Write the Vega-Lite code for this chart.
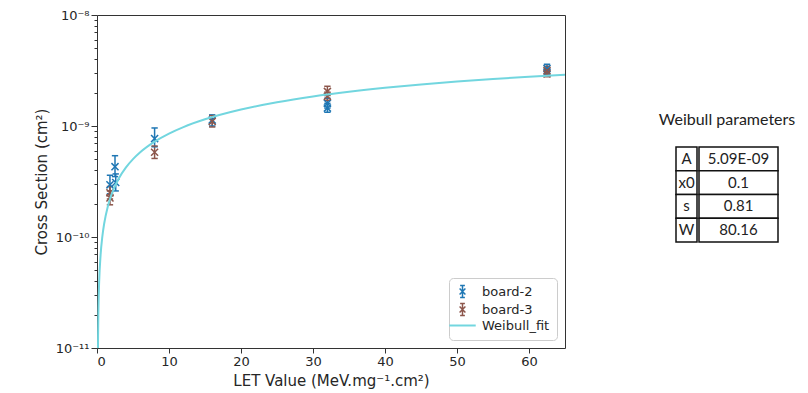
{
  "$schema": "https://vega.github.io/schema/vega-lite/v6.json",
  "padding": {"left": 33, "top": 8, "right": 5, "bottom": 3},
  "config": {"font": "DejaVu Sans", "concat": {"spacing": 92}},
  "resolve": {"scale": {"color": "independent"}, "legend": {"color": "independent"}},
  "datasets": {
    "pts": [
      {"series": "board-2", "let": 1.8, "cs": 2.95e-10, "lo": 2.45e-10, "hi": 3.6e-10},
      {"series": "board-2", "let": 2.5, "cs": 4.3e-10, "lo": 3.5e-10, "hi": 5.4e-10},
      {"series": "board-2", "let": 2.6, "cs": 3.1e-10, "lo": 2.6e-10, "hi": 3.7e-10},
      {"series": "board-2", "let": 8, "cs": 7.7e-10, "lo": 6.5e-10, "hi": 9.6e-10},
      {"series": "board-2", "let": 16, "cs": 1.13e-9, "lo": 1.0e-9, "hi": 1.26e-9},
      {"series": "board-2", "let": 32, "cs": 1.6e-9, "lo": 1.45e-9, "hi": 1.78e-9},
      {"series": "board-2", "let": 32, "cs": 1.45e-9, "lo": 1.33e-9, "hi": 1.6e-9},
      {"series": "board-2", "let": 62.5, "cs": 3.3e-9, "lo": 3.05e-9, "hi": 3.6e-9},
      {"series": "board-2", "let": 62.5, "cs": 3.05e-9, "lo": 2.85e-9, "hi": 3.3e-9},
      {"series": "board-3", "let": 1.8, "cs": 2.25e-10, "lo": 1.95e-10, "hi": 2.6e-10},
      {"series": "board-3", "let": 1.8, "cs": 2.5e-10, "lo": 2.2e-10, "hi": 2.85e-10},
      {"series": "board-3", "let": 8, "cs": 5.8e-10, "lo": 5.1e-10, "hi": 6.6e-10},
      {"series": "board-3", "let": 16, "cs": 1.1e-9, "lo": 0.98e-9, "hi": 1.24e-9},
      {"series": "board-3", "let": 32, "cs": 2.05e-9, "lo": 1.88e-9, "hi": 2.28e-9},
      {"series": "board-3", "let": 32, "cs": 1.85e-9, "lo": 1.7e-9, "hi": 2.02e-9},
      {"series": "board-3", "let": 62.5, "cs": 3.15e-9, "lo": 2.92e-9, "hi": 3.45e-9},
      {"series": "board-3", "let": 62.5, "cs": 2.95e-9, "lo": 2.78e-9, "hi": 3.2e-9}
    ],
    "fit": [
      {"series": "Weibull_fit", "let": 0.12, "cs": 6.14e-12},
      {"series": "Weibull_fit", "let": 0.13, "cs": 8.52e-12},
      {"series": "Weibull_fit", "let": 0.15, "cs": 1.288e-11},
      {"series": "Weibull_fit", "let": 0.2, "cs": 2.255e-11},
      {"series": "Weibull_fit", "let": 0.3, "cs": 3.95e-11},
      {"series": "Weibull_fit", "let": 0.5, "cs": 6.91e-11},
      {"series": "Weibull_fit", "let": 0.75, "cs": 1.02e-10},
      {"series": "Weibull_fit", "let": 1, "cs": 1.324e-10},
      {"series": "Weibull_fit", "let": 1.5, "cs": 1.883e-10},
      {"series": "Weibull_fit", "let": 2, "cs": 2.398e-10},
      {"series": "Weibull_fit", "let": 3, "cs": 3.345e-10},
      {"series": "Weibull_fit", "let": 4, "cs": 4.214e-10},
      {"series": "Weibull_fit", "let": 5, "cs": 5.026e-10},
      {"series": "Weibull_fit", "let": 6, "cs": 5.794e-10},
      {"series": "Weibull_fit", "let": 8, "cs": 7.223e-10},
      {"series": "Weibull_fit", "let": 10, "cs": 8.544e-10},
      {"series": "Weibull_fit", "let": 12, "cs": 9.776e-10},
      {"series": "Weibull_fit", "let": 15, "cs": 1.149e-9},
      {"series": "Weibull_fit", "let": 20, "cs": 1.407e-9},
      {"series": "Weibull_fit", "let": 25, "cs": 1.636e-9},
      {"series": "Weibull_fit", "let": 30, "cs": 1.844e-9},
      {"series": "Weibull_fit", "let": 35, "cs": 2.033e-9},
      {"series": "Weibull_fit", "let": 40, "cs": 2.207e-9},
      {"series": "Weibull_fit", "let": 45, "cs": 2.366e-9},
      {"series": "Weibull_fit", "let": 50, "cs": 2.514e-9},
      {"series": "Weibull_fit", "let": 55, "cs": 2.651e-9},
      {"series": "Weibull_fit", "let": 60, "cs": 2.779e-9},
      {"series": "Weibull_fit", "let": 65, "cs": 2.899e-9}
    ],
    "params": [
      {"p": "A", "v": "5.09E-09"},
      {"p": "x0", "v": "0.1"},
      {"p": "s", "v": "0.81"},
      {"p": "W", "v": "80.16"}
    ]
  },
  "hconcat": [
    {
      "width": 468,
      "height": 333,
      "view": {"stroke": "#333333", "strokeWidth": 1},
      "encoding": {
        "x": {
          "field": "let", "type": "quantitative",
          "scale": {"domain": [0, 65], "nice": false, "zero": false},
          "axis": {
            "title": "LET Value (MeV.mg⁻¹.cm²)",
            "values": [0, 10, 20, 30, 40, 50, 60],
            "grid": false, "domain": false,
            "tickSize": 5, "tickColor": "#333333", "labelPadding": 2,
            "labelFont": "DejaVu Sans", "labelFontSize": 13, "labelColor": "#262626",
            "titleFont": "DejaVu Sans", "titleFontSize": 15, "titleFontWeight": "normal", "titleColor": "#262626", "titlePadding": 5
          }
        },
        "color": {
          "field": "series", "type": "nominal",
          "scale": {"domain": ["board-2", "board-3", "Weibull_fit"], "range": ["#1f77b4", "#8c564b", "#72d6df"]},
          "legend": {
            "title": null, "orient": "bottom-right", "offset": 8,
            "fillColor": "white", "strokeColor": "#cccccc", "cornerRadius": 4, "padding": 7,
            "labelFont": "DejaVu Sans", "labelFontSize": 13, "labelColor": "#262626", "labelOffset": 13,
            "symbolSize": 700, "rowPadding": -1, "symbolStrokeWidth": 1.5,
            "encode": {
              "symbols": {
                "update": {
                  "shape": {"signal": "datum.value === 'Weibull_fit' ? 'stroke' : 'M-0.22,-0.22L0.22,0.22M-0.22,0.22L0.22,-0.22M0,-0.45L0,0.45M-0.18,-0.45L0.18,-0.45M-0.18,0.45L0.18,0.45'"},
                  "strokeWidth": {"signal": "datum.value === 'Weibull_fit' ? 2 : 1.5"},
                  "fill": {"value": "transparent"},
                  "stroke": {"signal": "datum.value === 'board-2' ? '#1f77b4' : datum.value === 'board-3' ? '#8c564b' : '#72d6df'"}
                }
              }
            }
          }
        }
      },
      "layer": [
        {
          "data": {"name": "pts"},
          "mark": {"type": "rule", "strokeWidth": 1.5},
          "encoding": {
            "y": {
              "field": "lo", "type": "quantitative",
              "scale": {"type": "log", "domain": [1e-11, 1e-8], "nice": false},
              "axis": {
                "title": "Cross Section (cm²)",
                "values": [1e-11, 2e-11, 3e-11, 4e-11, 5e-11, 6e-11, 7e-11, 8e-11, 9e-11, 1e-10, 2e-10, 3e-10, 4e-10, 5e-10, 6e-10, 7e-10, 8e-10, 9e-10, 1e-9, 2e-9, 3e-9, 4e-9, 5e-9, 6e-9, 7e-9, 8e-9, 9e-9, 1e-8],
                "labelExpr": "abs(datum.value/pow(10,round(log(datum.value)/LN10))-1)<1e-6 ? (round(log(datum.value)/LN10)==-8 ? '10⁻⁸' : round(log(datum.value)/LN10)==-9 ? '10⁻⁹' : round(log(datum.value)/LN10)==-10 ? '10⁻¹⁰' : '10⁻¹¹') : ''",
                "tickSize": {"condition": {"test": "abs(datum.value/pow(10,round(log(datum.value)/LN10))-1)<1e-6", "value": 6}, "value": 3},
                "labelOverlap": false, "grid": false, "domain": false,
                "tickColor": "#333333", "labelPadding": 2,
                "labelFont": "DejaVu Sans", "labelFontSize": 13, "labelColor": "#262626",
                "titleFont": "DejaVu Sans", "titleFontSize": 15, "titleFontWeight": "normal", "titleColor": "#262626", "titlePadding": 6
              }
            },
            "y2": {"field": "hi"}
          }
        },
        {
          "data": {"name": "pts"},
          "mark": {"type": "point", "shape": "stroke", "size": 40, "filled": false, "strokeWidth": 1.5, "opacity": 1},
          "encoding": {"y": {"field": "lo", "type": "quantitative"}}
        },
        {
          "data": {"name": "pts"},
          "mark": {"type": "point", "shape": "stroke", "size": 40, "filled": false, "strokeWidth": 1.5, "opacity": 1},
          "encoding": {"y": {"field": "hi", "type": "quantitative"}}
        },
        {
          "data": {"name": "pts"},
          "mark": {"type": "point", "shape": "M-1,-1L1,1M-1,1L1,-1", "size": 50, "filled": false, "strokeWidth": 1.5, "opacity": 1},
          "encoding": {"y": {"field": "cs", "type": "quantitative"}}
        },
        {
          "data": {"name": "fit"},
          "mark": {"type": "line", "strokeWidth": 2, "clip": true, "interpolate": "monotone"},
          "encoding": {"y": {"field": "cs", "type": "quantitative"}}
        }
      ]
    },
    {
      "spacing": 0,
      "vconcat": [
        {
          "width": 100,
          "height": 97,
          "view": {"stroke": null},
          "data": {"values": [{"t": ""}]},
          "mark": {"type": "text", "text": ""},
          "encoding": {}
        },
        {
          "title": {"text": "Weibull parameters", "font": "Lato", "fontSize": 16, "fontWeight": "normal", "anchor": "middle", "offset": 18, "color": "#222222"},
          "spacing": 0,
          "hconcat": [
            {
              "width": 21,
              "height": 95,
              "view": {"stroke": null},
              "data": {"name": "params"},
              "encoding": {
                "y": {"field": "p", "type": "nominal", "sort": null, "axis": null, "scale": {"paddingInner": 0, "paddingOuter": 0}}
              },
              "layer": [
                {"mark": {"type": "rect", "fill": "white", "stroke": "#111111", "strokeWidth": 1.5}},
                {"mark": {"type": "text", "font": "Lato", "fontSize": 15, "color": "#222222"}, "encoding": {"text": {"field": "p"}}}
              ]
            },
            {
              "width": 79,
              "height": 95,
              "view": {"stroke": null},
              "data": {"name": "params"},
              "encoding": {
                "y": {"field": "p", "type": "nominal", "sort": null, "axis": null, "scale": {"paddingInner": 0, "paddingOuter": 0}}
              },
              "layer": [
                {"mark": {"type": "rect", "fill": "white", "stroke": "#111111", "strokeWidth": 1.5}},
                {"mark": {"type": "text", "font": "Lato", "fontSize": 15, "color": "#222222"}, "encoding": {"text": {"field": "v"}}}
              ]
            }
          ]
        }
      ]
    }
  ]
}
